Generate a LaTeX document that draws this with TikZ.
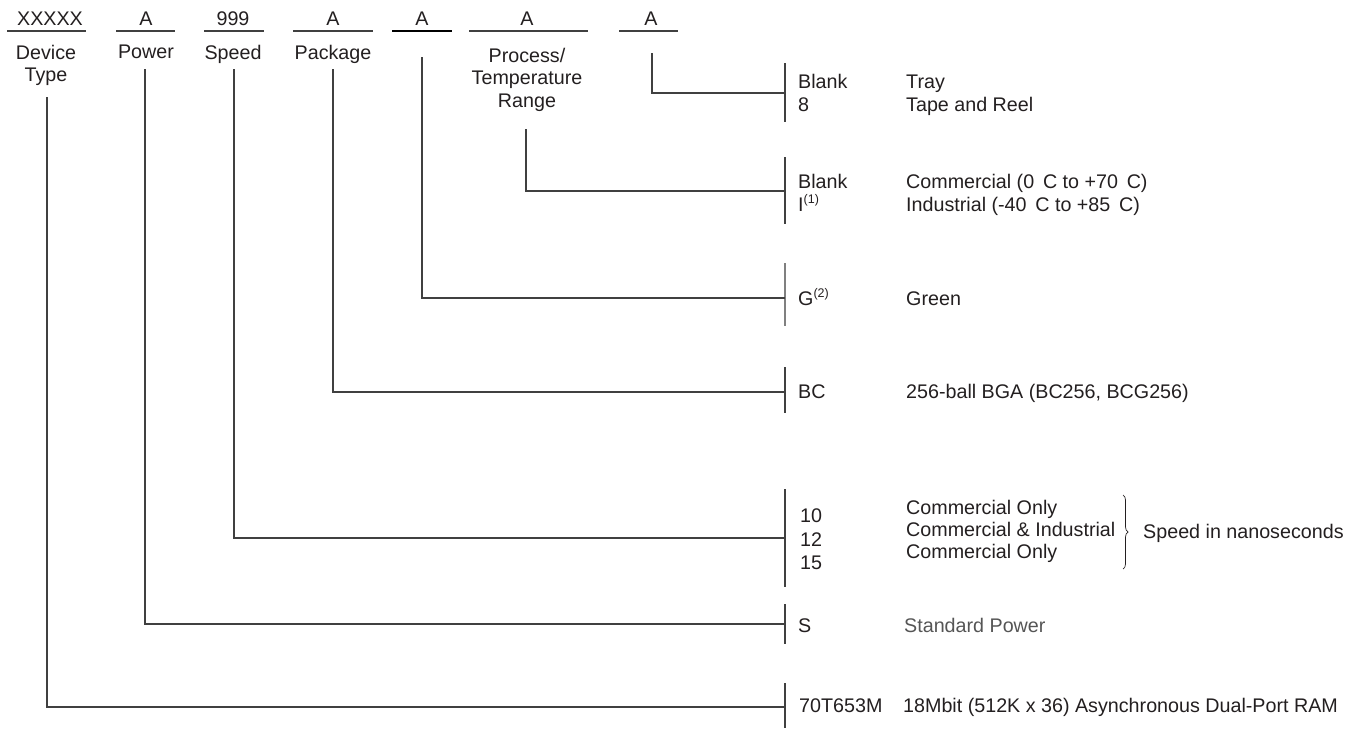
\documentclass[tikz,border=0pt]{standalone}
\usepackage{fontspec}
\setmainfont{Liberation Sans}
\usetikzlibrary{decorations.pathreplacing}
\definecolor{inkgray}{HTML}{231F20}
\definecolor{linegray}{HTML}{404040}
\definecolor{softgray}{HTML}{555555}
\newcommand{\supnote}[1]{\raisebox{0.40em}{\fontsize{12.5}{13}\selectfont(#1)}}

\begin{document}
\begin{tikzpicture}[x=1pt, y=-1pt]
  \tikzset{
    code_node/.style={anchor=base, inner sep=0pt, text=inkgray, font=\fontsize{19.7}{22.5}\selectfont},
    label_node/.style={anchor=north, align=center, inner sep=0pt, text=inkgray, font=\fontsize{19.7}{22.5}\selectfont},
    opt_node/.style={anchor=base west, inner sep=0pt, text=inkgray, font=\fontsize{19.7}{21}\selectfont},
    rule_line/.style={draw=linegray, line width=1.1pt},
    link_line/.style={draw=linegray, line width=1.1pt}
  }
  \useasboundingbox (0,0) rectangle (1359,728);

  % Campos del codigo de pedido
  \node[code_node] (c_dev) at (50,25) {XXXXX};
  \node[code_node] (c_pow) at (146,25) {A};
  \node[code_node] (c_spd) at (233,25) {999};
  \node[code_node] (c_pkg) at (333,25) {A};
  \node[code_node] (c_grn) at (422,25) {A};
  \node[code_node] (c_tmp) at (527,25) {A};
  \node[code_node] (c_pck) at (651,25) {A};

  % Subrayados
  \draw[rule_line] (7,31) -- (86,31);
  \draw[rule_line] (116,31) -- (175,31);
  \draw[rule_line] (204,31) -- (264,31);
  \draw[rule_line] (293,31) -- (373,31);
  \draw[rule_line, draw=black] (392,31) -- (452,31);
  \draw[rule_line] (469,31) -- (588,31);
  \draw[rule_line] (619,31) -- (678,31);

  % Etiquetas de los campos
  \node[label_node] (l_dev) at (46,45) {Device\\Type};
  \node[label_node] (l_pow) at (146,45) {Power};
  \node[label_node] (l_spd) at (233,45) {Speed};
  \node[label_node] (l_pkg) at (333,45) {Package};
  \node[label_node] (l_tmp) at (527,48) {Process/\\Temperature\\Range};

  % Inicio de las lineas verticales
  \coordinate (t_dev) at (47,97);
  \coordinate (t_pow) at (145,69);
  \coordinate (t_spd) at (234,69);
  \coordinate (t_pkg) at (333,69);
  \coordinate (t_grn) at (422,57);
  \coordinate (t_tmp) at (526,129);
  \coordinate (t_pck) at (652,53);

  % Barras de opciones
  \coordinate (b_pck) at (785,93);
  \coordinate (b_tmp) at (785,191);
  \coordinate (b_grn) at (785,298);
  \coordinate (b_pkg) at (785,392);
  \coordinate (b_spd) at (785,538);
  \coordinate (b_pow) at (785,624);
  \coordinate (b_dev) at (785,707);
  \draw[rule_line] (785,63) -- (785,122);
  \draw[rule_line] (785,157) -- (785,224);
  \draw[rule_line, draw=gray] (785,263) -- (785,326);
  \draw[rule_line] (785,367) -- (785,413);
  \draw[rule_line] (785,489) -- (785,587);
  \draw[rule_line] (785,604) -- (785,644);
  \draw[rule_line] (785,683) -- (785,728);

  % Conexiones
  \draw[link_line] (t_pck) |- (b_pck);
  \draw[link_line] (t_tmp) |- (b_tmp);
  \draw[link_line] (t_grn) |- (b_grn);
  \draw[link_line] (t_pkg) |- (b_pkg);
  \draw[link_line] (t_spd) |- (b_spd);
  \draw[link_line] (t_pow) |- (b_pow);
  \draw[link_line] (t_dev) |- (b_dev);

  % Opciones y descripciones
  \node[opt_node] (o_blank1) at (798,88) {Blank};
  \node[opt_node] (o_eight) at (798,111) {8};
  \node[opt_node] (d_tray) at (906,88) {Tray};
  \node[opt_node] (d_reel) at (906,111) {Tape and Reel};

  \node[opt_node] (o_blank2) at (798,188) {Blank};
  \node[opt_node] (o_ind) at (798,211) {I\supnote{1}};
  \node[opt_node] (d_com) at (906,188) {Commercial (0\,\ C to +70\,\ C)};
  \node[opt_node] (d_ind) at (906,211) {Industrial (-40\,\ C to +85\,\ C)};

  \node[opt_node] (o_grn) at (798,305) {G\supnote{2}};
  \node[opt_node] (d_grn) at (906,305) {Green};

  \node[opt_node] (o_bc) at (798,398) {BC};
  \node[opt_node] (d_bc) at (906,398) {256-ball BGA (BC256, BCG256)};

  \node[opt_node] (o_10) at (800,522) {10};
  \node[opt_node] (o_12) at (800,546) {12};
  \node[opt_node] (o_15) at (800,569) {15};
  \node[opt_node] (d_10) at (906,514) {Commercial Only};
  \node[opt_node] (d_12) at (906,536) {Commercial \& Industrial};
  \node[opt_node] (d_15) at (906,558) {Commercial Only};
  \coordinate (br_top) at (1123,495);
  \coordinate (br_bot) at (1123,569);
  \draw[inkgray, line width=0.7pt, decorate, decoration={brace, amplitude=5pt}] (br_top) -- (br_bot);
  \node[opt_node] (d_speed) at (1143,538) {Speed in nanoseconds};

  \node[opt_node] (o_s) at (798,632) {S};
  \node[opt_node, text=softgray] (d_s) at (904,632) {Standard Power};

  \node[opt_node] (o_dev) at (799,712) {70T653M};
  \node[opt_node] (d_dev) at (903,712) {18Mbit (512K x 36) Asynchronous Dual-Port RAM};
\end{tikzpicture}
\end{document}
